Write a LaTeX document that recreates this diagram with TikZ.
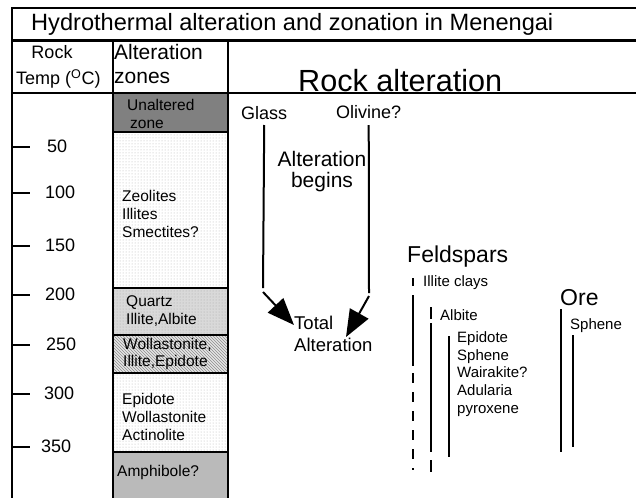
\documentclass[tikz,border=0pt]{standalone}
\usepackage{fontspec}
\setmainfont{Liberation Sans}
\usepackage{tikz}
\usetikzlibrary{patterns,arrows.meta}
\newcommand{\fsz}[2]{\fontsize{#1}{#2}\selectfont}

\begin{document}
\begin{tikzpicture}[x=1pt,y=-1pt,
  frame/.style={line width=2.2pt},
  bar/.style={line width=2pt},
  lbl/.style={inner sep=0pt, anchor=west, align=left},
  zonefont/.style={font=\fsz{15.5}{17.7}},
  bigarrow/.style={line width=2pt, -{Triangle[length=27pt,width=21pt]}}]
\useasboundingbox (0,0) rectangle (636,498);

% alteration zones
\fill[black!50] (113,93) rectangle (228,132);
\fill[pattern=dots, pattern color=black!30] (113,132) rectangle (228,288);
\fill[black!15] (113,288) rectangle (228,335);
\fill[pattern=dots, pattern color=black!35] (113,288) rectangle (228,335);
\fill[black!10] (113,335) rectangle (228,373);
\fill[pattern=north west lines, pattern color=black!45] (113,335) rectangle (228,373);
\fill[pattern=dots, pattern color=black!30] (113,373) rectangle (228,452);
\fill[black!27] (113,452) rectangle (228,498);
\foreach \y in {132,288,335,373,452}
  \draw[frame] (113,\y) -- (228,\y);

% frame
\draw[frame] (636,8) -- (12,8) -- (12,498);
\draw[line width=3pt] (12,40) -- (636,40);
\draw[frame] (12,93) -- (636,93);
\draw[frame] (113,40) -- (113,498);
\draw[frame] (228,40) -- (228,498);

% temperature axis
\foreach \t/\y/\x in {50/147/47, 100/193/45, 150/246/45, 200/295/45, 250/345/46, 300/394/44, 350/447/41} {
  \draw[frame] (12,\y) -- (30,\y);
  \node[lbl, font=\fsz{18}{18}] (t\t) at (\x,\y-1) {\t};
}

% headers
\node[lbl, font=\fsz{23.6}{24}] (title) at (31,24) {Hydrothermal alteration and zonation in Menengai};
\node[inner sep=0pt, font=\fsz{18}{18}] (rock) at (52,52) {Rock};
\node[lbl, font=\fsz{18}{18}] (temp) at (16,79) {Temp (\textsuperscript{O}C)};
\node[lbl, font=\fsz{21}{24}] (altzones) at (114,64) {Alteration\\zones};
\node[lbl, font=\fsz{30.6}{31}] (rockalt) at (298,81) {Rock alteration};

% zone labels
\node[lbl, zonefont] (unaltered) at (127,114) {Unaltered\\\hspace{3pt}zone};
\node[lbl, zonefont] (zeolites) at (122,214) {Zeolites\\Illites\\Smectites?};
\node[lbl, zonefont] (quartz) at (126,311) {Quartz\\Illite,Albite};
\node[lbl, zonefont] (wollast) at (123,354) {Wollastonite,\\Illite,Epidote};
\node[lbl, zonefont] (epidote) at (122,417) {Epidote\\Wollastonite\\Actinolite};
\node[lbl, zonefont] (amphibole) at (117,472) {Amphibole?};

% rock alteration
\node[lbl, font=\fsz{18}{18}] (glass) at (241,113) {Glass};
\node[lbl, font=\fsz{18}{18}] (olivine) at (336,112) {Olivine?};
\node[inner sep=0pt, align=center, font=\fsz{21}{21}] (begins) at (322,172) {Alteration\\begins};
\node[lbl, font=\fsz{18.5}{22}] (total) at (294,334) {Total\\Alteration};
\coordinate (gbend) at (263,288);
\coordinate (obend) at (369,293);
\coordinate (otip) at (346,337);
\draw[bar] (glass.south |- 0,125) -- (gbend);
\draw[bar] (olivine.south |- 0,125) -- (obend);
\draw[bigarrow] ([yshift=-4pt]gbend) -- ([yshift=9pt]total.west);
\draw[bigarrow] ([yshift=-3pt]obend) -- (otip);

% feldspars
\node[lbl, font=\fsz{23}{23}] (feldspars) at (407,257) {Feldspars};
\node[lbl, font=\fsz{15}{15}] (illite) at (423,283) {Illite clays};
\node[lbl, font=\fsz{15}{15}] (albite) at (440,315) {Albite};
\node[lbl, font=\fsz{15}{17.8}] (epsphene) at (457,374) {Epidote\\Sphene\\Wairakite?\\Adularia\\pyroxene};
\draw[bar] (413,278) -- (413,286);
\draw[bar] (413,295) -- (413,366);
\draw[bar, dash pattern=on 10pt off 9pt] (413,373) -- (413,470);
\draw[bar] (431,307) -- (431,319);
\draw[bar] (431,323) -- (431,452);
\draw[bar] (431,460) -- (431,472);
\draw[bar] (449,336) -- (449,457);

% ore
\node[lbl, font=\fsz{23}{23}] (ore) at (560,298) {Ore};
\node[lbl, font=\fsz{15}{15}] (sphene) at (570,326) {Sphene};
\draw[bar] (561,309) -- (561,452);
\draw[bar] (573,335) -- (573,447);
\end{tikzpicture}
\end{document}
